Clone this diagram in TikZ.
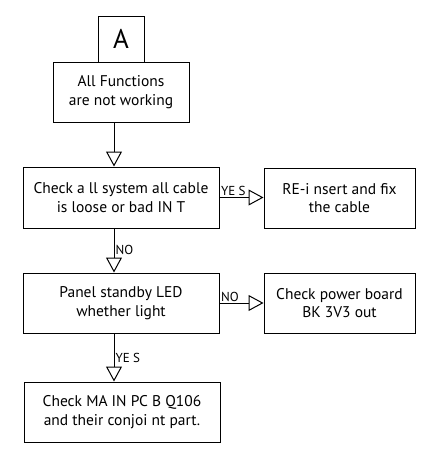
\documentclass[tikz,border=0pt]{standalone}
\usepackage{fontspec}
\setmainfont{PT Sans}
\usetikzlibrary{arrows.meta,positioning}
\tikzset{
  stepbox/.style={draw, line width=1pt, minimum width=196pt, minimum height=61pt,
              inner sep=0pt, align=center, font=\fontsize{15.5}{18.5}\selectfont},
  sidebox/.style={stepbox, minimum width=151pt},
  tagbox/.style={draw, line width=1pt, minimum width=46pt, minimum height=46pt,
              inner sep=0pt, font=\fontsize{27}{27}\selectfont},
  flow/.style={-{Triangle[open,length=15pt,width=16pt,line width=1pt]}, line width=1pt},
  answer/.style={font=\fontsize{13}{13}\selectfont, inner sep=1pt},
}

\begin{document}
\begin{tikzpicture}[x=1pt, y=-1pt]
        \useasboundingbox (0,0) rectangle (430,450);
        \coordinate (spine) at (114,0);
        \node[tagbox] (tag) at (121,39) {A};
        \node[stepbox, minimum width=136pt, minimum height=60pt] (fail) at (121,92) {All Functions\\are not working};
        \node[stepbox] (cable) at (121,197.5) {Check a ll system all cable\\is loose or bad IN T};
        \node[sidebox, minimum height=60pt] (reinsert) at (339.5,198) {RE-i nsert and fix\\the cable};
        \node[stepbox, minimum height=60pt] (panel) at (121,303) {Panel standby LED\\whether light};
        \node[sidebox, minimum height=60pt] (power) at (339.5,303) {Check power board\\BK 3V3 out};
        \node[stepbox, minimum height=60pt] (mainpcb) at (122,412) {Check MA IN PC B Q106\\and their conjoi nt part.};
        \draw[flow] (fail.south -| spine) -- (cable.north -| spine);
        \draw[flow] (cable.east) -- (cable.east -| reinsert.west)
              node[answer, pos=0, anchor=south west] {YE S};
        \draw[flow] (cable.south -| spine) -- (panel.north -| spine)
              node[answer, pos=0.62, anchor=south west] {NO};
        \draw[flow] (panel.east) -- (panel.east -| power.west)
              node[answer, pos=0, anchor=south west] {NO};
        \draw[flow] (panel.south -| spine) -- (mainpcb.north -| spine)
              node[answer, pos=0.63, anchor=south west] {YE S};
      \end{tikzpicture}
\end{document}
